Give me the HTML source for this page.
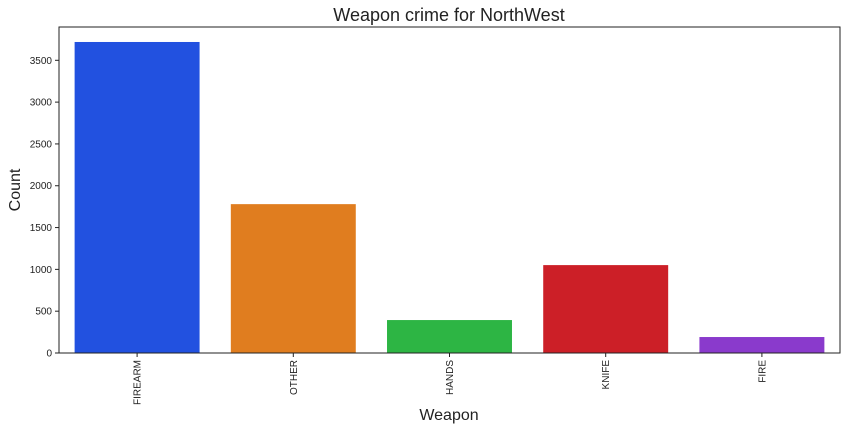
<!DOCTYPE html>
<html><head><meta charset="utf-8"><style>
body{margin:0;background:#fff;}
svg text{font-family:"Liberation Sans","DejaVu Sans",sans-serif;fill:#222;}
</style></head><body>
<svg id="chart" width="847" height="430">
<text x="449" y="21" font-size="18" text-anchor="middle">Weapon crime for NorthWest</text>
<text x="449" y="420" font-size="16" text-anchor="middle">Weapon</text>
<text transform="translate(20,190) rotate(-90)" font-size="16" text-anchor="middle">Count</text>
<g id="bars"></g><g id="axes"></g>
</svg>
<script>
const categories=["FIREARM","OTHER","HANDS","KNIFE","FIRE"];
const counts=[3719,1780,394,1051,191];
const colors=["#2251e0","#e07d1f","#2db544","#cc1f27","#8a3acc"];
const yTicks=[0,500,1000,1500,2000,2500,3000,3500];
const L=59,R=840,T=27,B=353;
const yPer=(B-60.3)/3500;
function y(v){return B-v*yPer;}
const step=(R-L)/categories.length;
function xc(i){return L+step*(i+0.5);}
const ns="http://www.w3.org/2000/svg";
const bars=document.getElementById('bars'),axes=document.getElementById('axes');
function mk(tag,attrs,parent){const e=document.createElementNS(ns,tag);for(const k in attrs)e.setAttribute(k,attrs[k]);parent.appendChild(e);return e;}
categories.forEach((c,i)=>{
 const r=mk('rect',{x:xc(i)-step*0.4,y:y(counts[i]),width:step*0.8,height:B-y(counts[i]),fill:colors[i]},bars);
 
 
 mk('line',{x1:xc(i),x2:xc(i),y1:B,y2:B+4,stroke:'#222'},axes);
 const t=mk('text',{transform:`translate(${xc(i)+3.5},${B+7}) rotate(-90)`,'font-size':10,'text-anchor':'end'},axes);
 t.textContent=c;
 
 
});
yTicks.forEach(v=>{
 mk('line',{x1:L-4,x2:L,y1:y(v),y2:y(v),stroke:'#222'},axes);
 const t=mk('text',{x:L-7,y:y(v)+3.5,'font-size':10,'text-anchor':'end'},axes);
 t.textContent=v;
 
 
});
const f=mk('rect',{x:L,y:T,width:R-L,height:B-T,fill:'none',stroke:'#222','stroke-width':1},axes);


</script>
</body></html>
